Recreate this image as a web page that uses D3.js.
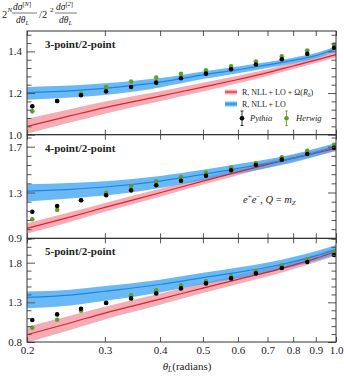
<!DOCTYPE html>
<html><head><meta charset="utf-8">
<script src="https://cdn.jsdelivr.net/npm/d3@7"></script>
<style>
body{margin:0;background:#fff}
text{font-family:"Liberation Serif","Times New Roman",serif;fill:#222}
</style>
</head><body><svg id="c" width="344" height="376"></svg>
<script>
// ---------- data ----------
const thetaBins = [0.2056,0.234,0.265,0.302,0.344,0.392,0.446,0.508,0.579,0.659,0.754,0.861,0.99];
const pythia3 = [1.136,1.162,1.189,1.208,1.229,1.250,1.271,1.293,1.314,1.337,1.362,1.388,1.417];
const herwig3 = [1.112,1.162,1.197,1.229,1.255,1.274,1.292,1.309,1.328,1.351,1.376,1.404,1.433];
const pythia4 = [1.132,1.182,1.232,1.276,1.319,1.363,1.403,1.447,1.494,1.540,1.587,1.636,1.691];
const herwig4 = [1.066,1.147,1.232,1.298,1.357,1.398,1.435,1.473,1.517,1.558,1.607,1.665,1.717];
const pythia5 = [1.077,1.148,1.220,1.292,1.350,1.413,1.476,1.539,1.602,1.665,1.733,1.809,1.897];
const herwig5 = [0.980,1.081,1.195,1.296,1.388,1.451,1.514,1.564,1.627,1.695,1.766,1.847,1.930];
const mcErr = [0.006,0.005,0.005,0.004,0.004,0.004,0.004,0.004,0.004,0.004,0.005,0.005,0.006];

const thetaGrid = [0.2,0.25,0.3,0.4,0.5,0.6,0.7,0.8,0.9,1.0];
// R, NLL + LO (blue)
const nllLO3 = [1.202,1.210,1.222,1.252,1.287,1.312,1.335,1.357,1.380,1.413];
const nllLO3Up = [0.027,0.026,0.025,0.020,0.017,0.015,0.014,0.013,0.012,0.012];
const nllLO3Dn = [0.034,0.032,0.031,0.025,0.020,0.017,0.015,0.014,0.013,0.012];
const nllLO4 = [1.312,1.328,1.348,1.400,1.458,1.510,1.555,1.600,1.650,1.700];
const nllLO4Up = [0.060,0.055,0.050,0.045,0.040,0.038,0.036,0.035,0.034,0.033];
const nllLO4Dn = [0.090,0.080,0.075,0.060,0.050,0.045,0.040,0.037,0.035,0.033];
const nllLO5 = [1.362,1.390,1.440,1.525,1.612,1.678,1.742,1.812,1.885,1.964];
const nllLO5Up = [0.075,0.070,0.065,0.060,0.060,0.060,0.060,0.060,0.060,0.060];
const nllLO5Dn = [0.135,0.130,0.120,0.100,0.085,0.075,0.068,0.064,0.062,0.060];
// R, NLL + LO + Omega(R_delta) (red)
const nllOm3 = [1.040,1.090,1.130,1.185,1.228,1.265,1.298,1.330,1.358,1.385];
const nllOm3Err = [0.036,0.032,0.029,0.024,0.021,0.018,0.016,0.015,0.014,0.013];
const nllOm4 = [0.987,1.085,1.170,1.298,1.400,1.480,1.545,1.600,1.645,1.686];
const nllOm4Err = [0.045,0.042,0.038,0.034,0.031,0.029,0.027,0.026,0.025,0.025];
const nllOm5 = [0.892,1.040,1.165,1.340,1.480,1.590,1.680,1.770,1.855,1.942];
const nllOm5Err = [0.100,0.090,0.080,0.070,0.063,0.058,0.055,0.053,0.051,0.050];

const xTicks = [0.2,0.3,0.4,0.5,0.6,0.7,0.8,0.9,1.0];
const xTickLabels = ["0.2","0.3","0.4","0.5","0.6","0.7","0.8","0.9","1.0"];
const panelNames = ["3-point/2-point","4-point/2-point","5-point/2-point"];
const yDomains = [[1.0,1.498],[0.9,1.805],[0.8,2.107]];
const yMajor = [[1.0,1.2,1.4],[0.9,1.3,1.7],[0.8,1.3,1.8]];
const yMinorStep = [0.04,0.08,0.1];

const panels = [
 {name:panelNames[0],dom:yDomains[0],maj:yMajor[0],step:yMinorStep[0],py:pythia3,hw:herwig3,b:nllLO3,bu:nllLO3Up,bd:nllLO3Dn,r:nllOm3,re:nllOm3Err},
 {name:panelNames[1],dom:yDomains[1],maj:yMajor[1],step:yMinorStep[1],py:pythia4,hw:herwig4,b:nllLO4,bu:nllLO4Up,bd:nllLO4Dn,r:nllOm4,re:nllOm4Err},
 {name:panelNames[2],dom:yDomains[2],maj:yMajor[2],step:yMinorStep[2],py:pythia5,hw:herwig5,b:nllLO5,bu:nllLO5Up,bd:nllLO5Dn,r:nllOm5,re:nllOm5Err}
];

// ---------- layout ----------
const L=27,R=336,T=31,B=342;
const ph=(B-T)/3;
const svg=d3.select("#c");
const x=d3.scaleLog().domain([0.2,1.0]).range([L,R]);
const RED="#e0202c", REDBAND="#f08a96", BLUE="#1c86e0", BLUEBAND="#3aa2f0", GREEN="#5f9e2a";

panels.forEach((p,i)=>{
  const y0=T+i*ph, y1=y0+ph;
  const y=d3.scaleLinear().domain(p.dom).range([y1,y0]);
  const g=svg.append("g");
  const cid="clip"+i;
  svg.append("clipPath").attr("id",cid).append("rect").attr("x",L).attr("y",y0).attr("width",R-L).attr("height",ph);
  const pg=g.append("g").attr("clip-path",`url(#${cid})`);
  const idx=d3.range(thetaGrid.length);
  // red band
  pg.append("path").datum(idx).attr("fill",REDBAND).attr("fill-opacity",0.7)
    .attr("d",d3.area().curve(d3.curveMonotoneX).x(k=>x(thetaGrid[k])).y0(k=>y(p.r[k]-p.re[k])).y1(k=>y(p.r[k]+p.re[k])));
  // blue band
  pg.append("path").datum(idx).attr("fill",BLUEBAND).attr("fill-opacity",0.75)
    .attr("d",d3.area().curve(d3.curveMonotoneX).x(k=>x(thetaGrid[k])).y0(k=>y(p.b[k]-p.bd[k])).y1(k=>y(p.b[k]+p.bu[k])));
  pg.append("path").datum(idx).attr("fill","none").attr("stroke",RED).attr("stroke-width",1.2)
    .attr("d",d3.line().curve(d3.curveMonotoneX).x(k=>x(thetaGrid[k])).y(k=>y(p.r[k])));
  pg.append("path").datum(idx).attr("fill","none").attr("stroke",BLUE).attr("stroke-width",1.2)
    .attr("d",d3.line().curve(d3.curveMonotoneX).x(k=>x(thetaGrid[k])).y(k=>y(p.b[k])));
  // points
  const drawPts=(vals,col)=>{
    thetaBins.forEach((t,k)=>{
      pg.append("line").attr("x1",x(t)).attr("x2",x(t)).attr("y1",y(vals[k]-mcErr[k])).attr("y2",y(vals[k]+mcErr[k])).attr("stroke",col).attr("stroke-width",0.8);
      pg.append("circle").attr("cx",x(t)).attr("cy",y(vals[k])).attr("r",2.3).attr("fill",col);
    });
  };
  drawPts(p.hw,GREEN);
  drawPts(p.py,"#000");

  // axes / ticks
  const minor=d3.range(p.dom[0],p.dom[1]+1e-9,p.step).filter(v=>!p.maj.some(m=>Math.abs(m-v)<1e-6));
  const mk=(ax,tr)=>{const a=g.append("g").attr("transform",tr).call(ax);a.select(".domain").remove();a.selectAll("line").attr("stroke","#555");return a;};
  const la=mk(d3.axisLeft(y).tickValues(p.maj).tickSize(-8).tickPadding(5).tickFormat(d3.format(".1f")),`translate(${L},0)`);
  la.selectAll("text").attr("font-size",11).attr("fill","#222").attr("font-family","Liberation Serif");
  mk(d3.axisLeft(y).tickValues(minor).tickSize(-4.5).tickFormat(""),`translate(${L},0)`);
  mk(d3.axisRight(y).tickValues(p.maj).tickSize(-8).tickFormat(""),`translate(${R},0)`);
  mk(d3.axisRight(y).tickValues(minor).tickSize(-4.5).tickFormat(""),`translate(${R},0)`);
  mk(d3.axisTop(x).tickValues(xTicks).tickSize(-5).tickFormat(""),`translate(0,${y0})`);
  const ba=mk(d3.axisBottom(x).tickValues(xTicks).tickSize(-5).tickPadding(i===2?4:0).tickFormat((d,k)=>i===2?xTickLabels[k]:""),`translate(0,${y1})`);
  ba.selectAll("text").attr("font-size",11).attr("fill","#222").attr("font-family","Liberation Serif");
  // frame
  g.append("rect").attr("x",L).attr("y",y0).attr("width",R-L).attr("height",ph).attr("fill","none").attr("stroke","#333").attr("stroke-width",1);
  // panel label
  g.append("text").attr("x",45).attr("y",y0+17).attr("font-size",11).attr("font-weight","bold").text(p.name);
});

// legend (panel 1)
const lg=svg.append("g");
lg.append("rect").attr("x",225).attr("y",89.5).attr("width",12).attr("height",5).attr("fill",REDBAND).attr("fill-opacity",0.7);
lg.append("line").attr("x1",225).attr("x2",237).attr("y1",92).attr("y2",92).attr("stroke",RED).attr("stroke-width",1.2);
lg.append("rect").attr("x",225).attr("y",101.5).attr("width",12).attr("height",5).attr("fill",BLUEBAND).attr("fill-opacity",0.75);
lg.append("line").attr("x1",225).attr("x2",237).attr("y1",104).attr("y2",104).attr("stroke",BLUE).attr("stroke-width",1.2);
const t1=lg.append("text").attr("x",242).attr("y",95).attr("font-size",8);
t1.append("tspan").text("R, NLL + LO + Ω(");
t1.append("tspan").attr("font-style","italic").text("R");
t1.append("tspan").attr("font-size",6).attr("dy",1.5).text("δ");
t1.append("tspan").attr("dy",-1.5).text(")");
lg.append("text").attr("x",242).attr("y",107).attr("font-size",8).text("R, NLL + LO");
[[242,"#000","Pythia",250],[286.5,GREEN,"Herwig",296]].forEach(([cx,col,lab,tx])=>{
  lg.append("line").attr("x1",cx).attr("x2",cx).attr("y1",111).attr("y2",125.5).attr("stroke",col).attr("stroke-width",0.8);
  lg.append("line").attr("x1",cx-1.5).attr("x2",cx+1.5).attr("y1",111).attr("y2",111).attr("stroke",col).attr("stroke-width",0.8);
  lg.append("line").attr("x1",cx-1.5).attr("x2",cx+1.5).attr("y1",125.5).attr("y2",125.5).attr("stroke",col).attr("stroke-width",0.8);
  lg.append("circle").attr("cx",cx).attr("cy",118.3).attr("r",2.3).attr("fill",col);
  lg.append("text").attr("x",tx).attr("y",121).attr("font-size",8.5).attr("font-style","italic").text(lab);
});

// e+e-, Q = m_Z
const ee=svg.append("text").attr("x",243).attr("y",203).attr("font-size",10.5).attr("font-style","italic");
ee.append("tspan").text("e");
ee.append("tspan").attr("font-size",7).attr("dy",-4).attr("font-style","normal").text("+");
ee.append("tspan").attr("dy",4).text("e");
ee.append("tspan").attr("font-size",7).attr("dy",-4).attr("font-style","normal").text("−");
ee.append("tspan").attr("dy",4).attr("font-style","normal").text(", ");
ee.append("tspan").text("Q");
ee.append("tspan").attr("font-style","normal").text(" = ");
ee.append("tspan").text("m");
ee.append("tspan").attr("font-size",7).attr("dy",2).text("Z");

// x-axis title
const xt=svg.append("text").attr("x",187).attr("y",370).attr("text-anchor","middle").attr("font-size",11);
xt.append("tspan").attr("font-style","italic").text("θ");
xt.append("tspan").attr("font-style","italic").attr("font-size",7.5).attr("dy",2).text("L");
xt.append("tspan").attr("dy",-2).text("(radians)");

// y-axis title
const yt=svg.append("g");
yt.append("text").attr("x",2).attr("y",18).attr("font-size",10.5).text("2");
yt.append("text").attr("x",7.5).attr("y",12).attr("font-size",7).attr("font-style","italic").text("N");
const frac=(x0,sup,w)=>{
  const n=yt.append("text").attr("x",x0+1).attr("y",9.5).attr("font-size",9.5).attr("font-style","italic");
  n.append("tspan").text("dσ");
  n.append("tspan").attr("font-size",6.5).attr("dy",-3.5).attr("font-style","normal").text("["); 
  n.append("tspan").attr("font-size",6.5).text(sup);
  n.append("tspan").attr("font-size",6.5).attr("font-style","normal").text("]");
  yt.append("line").attr("x1",x0).attr("x2",x0+w).attr("y1",13).attr("y2",13).attr("stroke","#222").attr("stroke-width",0.6);
  const d=yt.append("text").attr("x",x0+4).attr("y",23).attr("font-size",9.5).attr("font-style","italic");
  d.append("tspan").text("dθ");
  d.append("tspan").attr("font-size",6.5).attr("dy",2).text("L");
};
frac(12,"N",25);
yt.append("text").attr("x",39).attr("y",18).attr("font-size",10.5).text("/2");
yt.append("text").attr("x",50).attr("y",12).attr("font-size",7).text("2");
frac(55,"2",22);
</script></body></html>
